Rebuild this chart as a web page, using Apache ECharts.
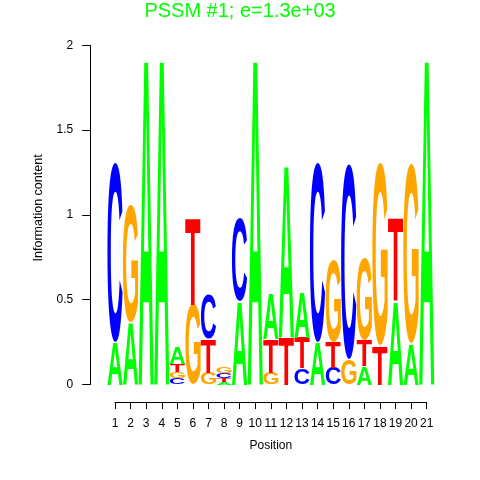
<!DOCTYPE html>
<html>
<head>
<meta charset="utf-8">
<script src="https://cdn.jsdelivr.net/npm/echarts@6/dist/echarts.min.js"></script>
<style>
  html, body { margin: 0; padding: 0; background: #fff; }
  #chart { width: 480px; height: 480px; }
</style>
</head>
<body>
<div id="chart"></div>
<script>
// information content per letter at each position
const positions = [1, 2, 3, 4, 5, 6, 7, 8, 9, 10, 11, 12, 13, 14, 15, 16, 17, 18, 19, 20, 21]
const heightA = [0.25, 0.37, 1.93, 1.93, 0.10, 0, 0, 0.015, 0.49, 1.93, 0.27, 1.02, 0.27, 0.25, 0, 0, 0.11, 0, 0.49, 0.24, 1.93]
const heightC = [1.06, 0, 0, 0, 0.035, 0, 0.265, 0.03, 0.49, 0, 0, 0, 0.095, 1.06, 0.10, 1.15, 0, 0, 0, 0, 0]
const heightG = [0, 0.69, 0, 0, 0.04, 0.47, 0.07, 0.037, 0, 0, 0.07, 0, 0, 0, 0.48, 0.15, 0.48, 1.07, 0, 1.06, 0]
const heightT = [0, 0, 0, 0, 0.045, 0.51, 0.20, 0.02, 0, 0, 0.20, 0.28, 0.18, 0, 0.15, 0, 0.15, 0.23, 0.49, 0, 0]
const yTicks = [0, 0.5, 1, 1.5, 2]

const letters = ['A', 'C', 'G', 'T']
const letterColors = { A: '#00ff00', C: '#0000ff', G: '#ffa500', T: '#ff0000' }
const heights = { A: heightA, C: heightC, G: heightG, T: heightT }

const LETTER_FONT = 'bold 100px "Liberation Sans"'

// ink box of each glyph, used to stretch it over its cell
const ctx = document.createElement('canvas').getContext('2d')
ctx.font = LETTER_FONT
ctx.textBaseline = 'middle'
ctx.textAlign = 'left'
const inkBox = {}
letters.forEach((l) => {
  const m = ctx.measureText(l)
  inkBox[l] = {
    left: m.actualBoundingBoxLeft,
    right: m.actualBoundingBoxRight,
    ascent: m.actualBoundingBoxAscent,
    descent: m.actualBoundingBoxDescent,
  }
})

// stack letters per position, smallest at the bottom
const stackData = []
positions.forEach((pos, i) => {
  const col = letters
    .map((l, k) => ({ l, k, h: heights[l][i] }))
    .filter((d) => d.h > 0)
    .sort((a, b) => a.h - b.h || a.k - b.k)
  let base = 0
  col.forEach((d) => {
    stackData.push([pos, d.k, base, d.h])
    base += d.h
  })
})

function renderLetter(params, api) {
  const x = api.value(0)
  const l = letters[api.value(1)]
  const y0 = api.value(2)
  const h = api.value(3)
  const tl = api.coord([x - 0.49, y0 + h])
  const br = api.coord([x + 0.49, y0])
  const w = br[0] - tl[0]
  const hh = br[1] - tl[1]
  if (hh < 0.3) return null
  const box = inkBox[l]
  const sx = w / (box.left + box.right)
  const sy = hh / (box.ascent + box.descent)
  return {
    type: 'text',
    x: tl[0] + box.left * sx,
    y: tl[1] + box.ascent * sy,
    scaleX: sx,
    scaleY: sy,
    style: {
      text: l,
      font: LETTER_FONT,
      fill: letterColors[l],
      align: 'left',
      verticalAlign: 'middle',
    },
  }
}

const axisFont = { fontFamily: '"Liberation Sans", Arial, sans-serif', fontSize: 12, color: '#000' }

const chart = echarts.init(document.getElementById('chart'), null, { renderer: 'canvas' })
chart.setOption({
  animation: false,
  title: {
    text: 'PSSM #1; e=1.3e+03',
    left: 'center',
    top: -4,
    textStyle: { color: '#00ff00', fontSize: 20, fontWeight: 'normal', fontFamily: '"Liberation Sans", Arial, sans-serif' },
  },
  grid: [
    { left: 107.2, right: 45.5, top: 45.3, bottom: 95.5 },
    { left: 115, right: 53.3, top: 300, bottom: 78 },
  ],
  xAxis: [
    { gridIndex: 0, type: 'value', min: 0.5, max: 21.5, show: false },
    {
      gridIndex: 1,
      type: 'value',
      min: positions[0],
      max: positions[positions.length - 1],
      interval: 1,
      name: 'Position',
      nameLocation: 'middle',
      nameGap: 38,
      nameTextStyle: axisFont,
      axisLine: { lineStyle: { color: '#000', width: 1 } },
      axisTick: { length: 7, lineStyle: { color: '#000' } },
      axisLabel: { ...axisFont, margin: 16 },
      splitLine: { show: false },
    },
  ],
  yAxis: [
    {
      gridIndex: 0,
      type: 'value',
      min: yTicks[0],
      max: yTicks[yTicks.length - 1],
      interval: 0.5,
      offset: 17,
      name: 'Information content',
      nameLocation: 'middle',
      nameGap: 45,
      nameTextStyle: { ...axisFont, fontSize: 12.5, padding: [0, 0, 0, 14] },
      axisLine: { show: true, lineStyle: { color: '#000', width: 1 } },
      axisTick: { show: true, length: 8, lineStyle: { color: '#000' } },
      axisLabel: { ...axisFont, margin: 17 },
      splitLine: { show: false },
    },
    { gridIndex: 1, type: 'value', show: false },
  ],
  series: [
    {
      type: 'custom',
      xAxisIndex: 0,
      yAxisIndex: 0,
      renderItem: renderLetter,
      data: stackData,
      silent: true,
    },
  ],
})
</script>
</body>
</html>
